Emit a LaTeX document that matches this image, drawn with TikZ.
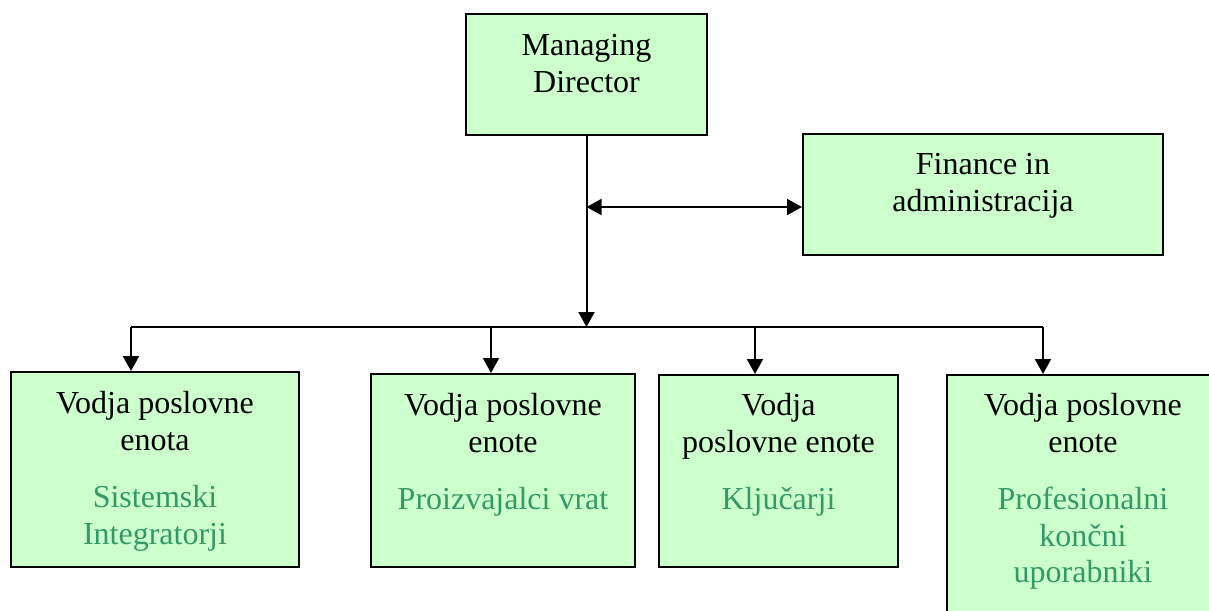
\documentclass[tikz,border=0pt]{standalone}
\usepackage{fontspec}
\setmainfont{Liberation Serif}
\usetikzlibrary{arrows.meta,fit}
\definecolor{boxfill}{HTML}{CCFFCC}
\definecolor{unitgreen}{HTML}{339966}
\begin{document}
\begin{tikzpicture}[x=0.5pt,y=-0.5pt,
  box/.style={draw=black,line width=1pt,fill=boxfill,inner sep=0pt},
  boxtext/.style={anchor=north,inner sep=0pt,align=center,font=\fontsize{16pt}{18.4pt}\selectfont},
  tip/.tip={Triangle[width=8pt,length=7.5pt]},
  conn/.style={line width=1pt,-tip},
  bothconn/.style={line width=1pt,tip-tip},
  busline/.style={line width=1pt}]
\useasboundingbox (0,0) rectangle (1209,610);
\clip (0,0) rectangle (1209,610);

% boxes
\node[box,fit={(466,14)(707,135)}] (md) {};
\node[boxtext] (mdt) at (586.5,34) {Managing\\Director};

\node[box,fit={(803,134)(1163,255)}] (fin) {};
\node[boxtext] (fint) at (983,153) {Finance in\\administracija};

\node[box,fit={(11,372)(299,567)}] (u1) {};
\node[boxtext] (u1t) at (155,391) {Vodja poslovne\\enota\\[10pt]\textcolor{unitgreen}{Sistemski}\\\textcolor{unitgreen}{Integratorji}};

\node[box,fit={(371,374)(635,567)}] (u2) {};
\node[boxtext] (u2t) at (503,393) {Vodja poslovne\\enote\\[10pt]\textcolor{unitgreen}{Proizvajalci vrat}};

\node[box,fit={(659,375)(898,567)}] (u3) {};
\node[boxtext] (u3t) at (778.5,393) {Vodja\\poslovne enote\\[10pt]\textcolor{unitgreen}{Ključarji}};

\node[box,fit={(947,375)(1219,640)}] (u4) {};
\node[boxtext] (u4t) at (1083,393) {Vodja poslovne\\enote\\[10pt]\textcolor{unitgreen}{Profesionalni}\\\textcolor{unitgreen}{končni}\\\textcolor{unitgreen}{uporabniki}};

% connectors
\coordinate (busm) at (586.5,327);
\coordinate (bus1) at (131,327);
\coordinate (bus2) at (491,327);
\coordinate (bus3) at (755,327);
\coordinate (bus4) at (1043,327);
\coordinate (finj) at (586.5,207);

\draw[conn] (md.south) -- (busm);
\draw[bothconn] (finj) -- (finj -| fin.west);
\draw[busline] (bus1) -- (bus4);
\draw[conn] (bus1) -- (bus1 |- u1.north);
\draw[conn] (bus2) -- (bus2 |- u2.north);
\draw[conn] (bus3) -- (bus3 |- u3.north);
\draw[conn] (bus4) -- (bus4 |- u4.north);
\end{tikzpicture}
\end{document}
